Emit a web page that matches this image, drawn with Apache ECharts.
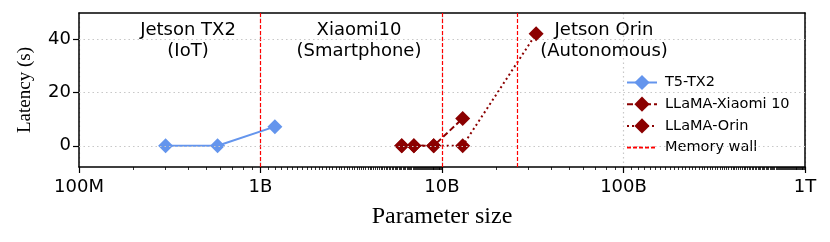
<!DOCTYPE html>
<html><head><meta charset="utf-8">
<script src="https://cdn.jsdelivr.net/npm/echarts@6/dist/echarts.min.js"></script>
<style>html,body{margin:0;padding:0;background:#fff}#c{width:830px;height:242px}</style>
</head><body><div id="c"></div>
<script>
const xTickValues = [1e8, 1e9, 1e10, 1e11, 1e12];
const xTickLabels = ['100M', '1B', '10B', '100B', '1T'];
const yTickValues = [0, 20, 40];
const t5Params = [3e8, 5.8e8, 1.2e9];
const t5Latency = [0, 0, 7.2];
const xiaomiParams = [6e9, 7e9, 9e9, 13e9];
const xiaomiLatency = [0, 0, 0, 10.3];
const orinParams = [6e9, 7e9, 9e9, 13e9, 33e9];
const orinLatency = [0, 0, 0, 0, 42.2];
const memoryWalls = [1e9, 1e10, 2.6e10];
const annotations = [
  { text: 'Jetson TX2\n(IoT)', x: 188 },
  { text: 'Xiaomi10\n(Smartphone)', x: 359 },
  { text: 'Jetson Orin\n(Autonomous)', x: 604 }
];

// minor tick positions (log10 space) for the decorative minor-tick axis
const minorTicks = [];
[[8, 1], [9, 0.1], [10, 1], [11, 0.1]].forEach(([e, step]) => {
  for (let k = 1 + step; k < 9.9999; k += step) minorTicks.push(e + Math.log10(k));
});

const zip = (a, b) => a.map((v, i) => [v, b[i]]);
const SANS = 'DejaVu Sans';
const GRID = { left: 79, right: 25, top: 13, bottom: 75 };
const gridLine = { show: true, lineStyle: { color: '#c8c8c8', type: [1.5, 3], width: 1.2 } };
const black = { color: '#000', width: 1.5 };

const chart = echarts.init(document.getElementById('c'), null, { renderer: 'canvas' });
chart.setOption({
  animation: false,
  backgroundColor: '#fff',
  grid: [Object.assign({}, GRID), Object.assign({}, GRID)],
  xAxis: [
    {
      gridIndex: 0, type: 'log', logBase: 10, min: 1e8, max: 1e12, position: 'bottom',
      axisLine: { show: true, onZero: false, lineStyle: black },
      axisTick: { show: true, length: 6, lineStyle: { color: '#000', width: 1.2 } },
      axisLabel: {
        show: true, margin: 11, fontFamily: SANS, fontSize: 18, color: '#000',
        formatter: v => { const i = xTickValues.findIndex(t => Math.abs(Math.log10(t) - Math.log10(v)) < 1e-6); return i >= 0 ? xTickLabels[i] : ''; }
      },
      splitLine: gridLine,
      name: 'Parameter size', nameLocation: 'middle', nameGap: 38,
      nameTextStyle: { fontFamily: 'Liberation Serif', fontSize: 24, color: '#000' }
    },
    {
      gridIndex: 0, type: 'log', logBase: 10, min: 1e8, max: 1e12, position: 'top',
      axisLine: { show: true, onZero: false, lineStyle: black },
      axisTick: { show: false }, axisLabel: { show: false }, splitLine: { show: false }
    },
    {
      gridIndex: 1, type: 'value', min: 8, max: 12, position: 'bottom',
      axisLine: { show: false, onZero: false },
      axisTick: { show: true, length: 3, customValues: minorTicks, lineStyle: { color: '#000', width: 0.8 } },
      axisLabel: { show: false }, splitLine: { show: false }
    }
  ],
  yAxis: [
    {
      gridIndex: 0, type: 'value', min: -8, max: 50, position: 'left',
      axisLine: { show: true, onZero: false, lineStyle: black },
      axisTick: { show: true, length: 6, customValues: yTickValues, lineStyle: { color: '#000', width: 1.2 } },
      axisLabel: { show: true, customValues: yTickValues, margin: 8, fontFamily: SANS, fontSize: 18, color: '#000' },
      splitLine: { show: false },
      name: 'Latency (s)', nameLocation: 'middle', nameGap: 44,
      nameTextStyle: { fontFamily: 'Liberation Serif', fontSize: 19, color: '#000' }
    },
    {
      gridIndex: 0, type: 'value', min: -8, max: 50, position: 'right',
      axisLine: { show: true, onZero: false, lineStyle: black },
      axisTick: { show: false }, axisLabel: { show: false }, splitLine: { show: false }
    },
    { gridIndex: 1, type: 'value', min: -8, max: 50, show: false }
  ],
  legend: {
    orient: 'vertical', left: 621, top: 68, itemWidth: 30, itemHeight: 19, itemGap: 2.7,
    textStyle: { fontFamily: SANS, fontSize: 14.5, color: '#000', lineHeight: 19, padding: [0, 0, 0, 3] },
    data: ['T5-TX2', 'LLaMA-Xiaomi 10', 'LLaMA-Orin', { name: 'Memory wall', itemStyle: { opacity: 0 } }]
  },
  graphic: annotations.map(a => ({
    type: 'text', z: 50, x: a.x, y: 20,
    style: { text: a.text, x: 0, y: 0, textAlign: 'center', font: '18px "DejaVu Sans"', lineHeight: 21, fill: '#000' }
  })),
  series: [
    {
      name: 'gridlines', type: 'line', xAxisIndex: 0, yAxisIndex: 0, data: [], silent: true,
      markLine: {
        symbol: 'none', silent: true, label: { show: false },
        lineStyle: { color: '#c8c8c8', type: [1.5, 3], width: 1.2 },
        data: yTickValues.map(v => ({ yAxis: v }))
      }
    },
    {
      name: 'T5-TX2', type: 'line', xAxisIndex: 0, yAxisIndex: 0, data: zip(t5Params, t5Latency),
      symbol: 'diamond', symbolSize: 15, color: '#6495ED', z: 3,
      lineStyle: { width: 2, color: '#6495ED' }, itemStyle: { color: '#6495ED' }
    },
    {
      name: 'LLaMA-Xiaomi 10', type: 'line', xAxisIndex: 0, yAxisIndex: 0, data: zip(xiaomiParams, xiaomiLatency),
      symbol: 'diamond', symbolSize: 15, color: '#8B0000', z: 3,
      lineStyle: { width: 2, color: '#8B0000', type: [6, 3] }, itemStyle: { color: '#8B0000' }
    },
    {
      name: 'LLaMA-Orin', type: 'line', xAxisIndex: 0, yAxisIndex: 0, data: zip(orinParams, orinLatency),
      symbol: 'diamond', symbolSize: 15, color: '#8B0000', z: 3,
      lineStyle: { width: 2, color: '#8B0000', type: [2, 3] }, itemStyle: { color: '#8B0000' }
    },
    {
      name: 'Memory wall', type: 'line', xAxisIndex: 0, yAxisIndex: 0, data: [], symbol: 'none',
      color: '#ff0000', z: 4,
      lineStyle: { width: 1.2, color: '#ff0000', type: [4, 2] },
      markLine: {
        symbol: 'none', silent: true, label: { show: false }, z: 4,
        lineStyle: { color: '#ff0000', type: [4, 2], width: 1.2 },
        data: memoryWalls.map(v => ({ xAxis: v }))
      }
    }
  ]
});
</script>
</body></html>
